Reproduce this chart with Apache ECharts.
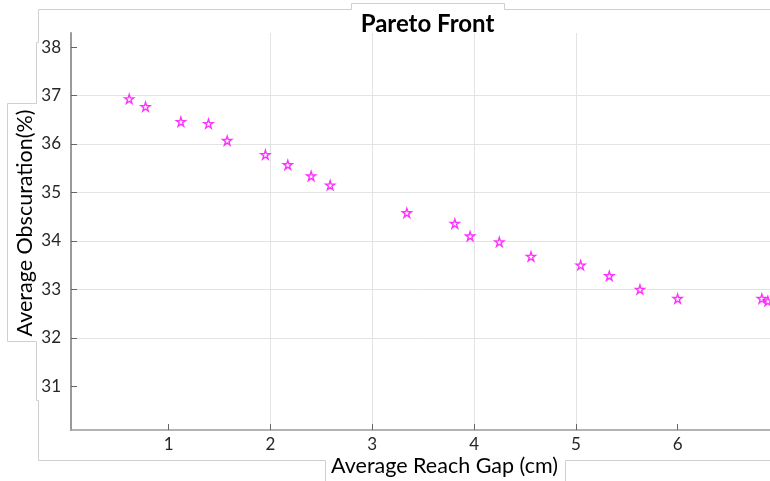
<!DOCTYPE html>
<html>
<head>
<meta charset="utf-8">
<title>Pareto Front</title>
<script src="https://cdn.jsdelivr.net/npm/echarts@6/dist/echarts.min.js"></script>
<style>
  html, body { margin: 0; padding: 0; background: #ffffff; }
  #chart { width: 770px; height: 481px; }
</style>
</head>
<body>
<div id="chart"></div>
<script>
// Average reach gap (cm) of each Pareto-optimal solution
const reachGap = [0.614, 0.774, 1.121, 1.392, 1.576, 1.951, 2.171, 2.400, 2.587, 3.340,
                  3.811, 3.961, 4.248, 4.559, 5.047, 5.328, 5.629, 5.999, 6.826, 6.885];
// Average obscuration (%) of the same solutions
const obscuration = [36.93, 36.77, 36.46, 36.42, 36.07, 35.78, 35.57, 35.34, 35.15, 34.58,
                     34.36, 34.10, 33.98, 33.68, 33.50, 33.28, 33.00, 32.81, 32.81, 32.76];
// Tick labels on each axis
const xTicks = [1, 2, 3, 4, 5, 6];
const yTicks = [31, 32, 33, 34, 35, 36, 37, 38];

const points = reachGap.map((x, i) => [x, obscuration[i]]);

const STAR = 'path://M50,2 L61.2,36.3 L97.5,36.3 L68.2,57.5 L79.4,91.8 L50,70.6 L20.6,91.8 L31.8,57.5 L2.5,36.3 L38.8,36.3 Z';
const FONT = 'Lato, "Open Sans", sans-serif';
const FRAME = '#cfcfcf';

const chart = echarts.init(document.getElementById('chart'), null, { renderer: 'canvas' });

chart.setOption({
  animation: false,
  backgroundColor: '#ffffff',
  grid: { left: 71, right: 0, top: 33, bottom: 51, containLabel: false },
  xAxis: {
    type: 'value',
    min: 0.042,
    max: 6.906,
    minInterval: 1,
    maxInterval: 1,
    axisLine: { show: true, onZero: false, lineStyle: { color: '#9a9a9a', width: 1.5 } },
    axisTick: { show: true, inside: true, length: 6, customValues: xTicks, lineStyle: { color: '#666' } },
    axisLabel: { customValues: xTicks, margin: 6, color: '#262626', fontSize: 17, fontFamily: FONT },
    splitLine: { show: true, showMinLine: false, showMaxLine: false, lineStyle: { color: '#e3e3e3', width: 1 } }
  },
  yAxis: {
    type: 'value',
    min: 30.1,
    max: 38.29,
    minInterval: 1,
    maxInterval: 1,
    axisLine: { show: true, onZero: false, lineStyle: { color: '#9a9a9a', width: 2 } },
    axisTick: { show: true, inside: true, length: 6, customValues: yTicks, lineStyle: { color: '#666' } },
    axisLabel: { customValues: yTicks, margin: 10, color: '#262626', fontSize: 17, fontFamily: FONT },
    splitLine: { show: true, showMinLine: false, showMaxLine: false, lineStyle: { color: '#e3e3e3', width: 1 } }
  },
  series: [{
    type: 'scatter',
    data: points,
    symbol: STAR,
    symbolSize: 9,
    clip: false,
    itemStyle: { color: '#ffffff', borderColor: '#ff00ff', borderWidth: 1.4 }
  }],
  graphic: [
    // light outline of the surrounding text frames
    {
      type: 'polyline', silent: true, z: -1,
      shape: { points: [[770, 9.5], [504.5, 9.5], [504.5, 3.5], [351.5, 3.5], [351.5, 9.5], [38.5, 9.5],
                        [38.5, 42.5], [36.5, 42.5], [36.5, 103.5], [7.5, 103.5], [7.5, 341.5],
                        [36.5, 341.5], [36.5, 400.5], [38.5, 400.5], [38.5, 460.5], [325.5, 460.5], [325.5, 481]] },
      style: { stroke: FRAME, fill: null, lineWidth: 1 }
    },
    {
      type: 'polyline', silent: true, z: -1,
      shape: { points: [[565.5, 481], [565.5, 460.5], [770, 460.5]] },
      style: { stroke: FRAME, fill: null, lineWidth: 1 }
    },
    {
      type: 'text', x: 427.5, y: 24,
      style: { text: 'Pareto Front', fill: '#000000', font: 'bold 24px ' + FONT, align: 'center', verticalAlign: 'middle' }
    },
    {
      type: 'text', x: 444.5, y: 466.5,
      style: { text: 'Average Reach Gap (cm)', fill: '#000000', font: '21.5px ' + FONT, align: 'center', verticalAlign: 'middle' }
    },
    {
      type: 'text', x: 25, y: 223, rotation: Math.PI / 2,
      style: { text: 'Average Obscuration(%)', fill: '#000000', font: '21.5px ' + FONT, align: 'center', verticalAlign: 'middle' }
    }
  ]
});
</script>
</body>
</html>
